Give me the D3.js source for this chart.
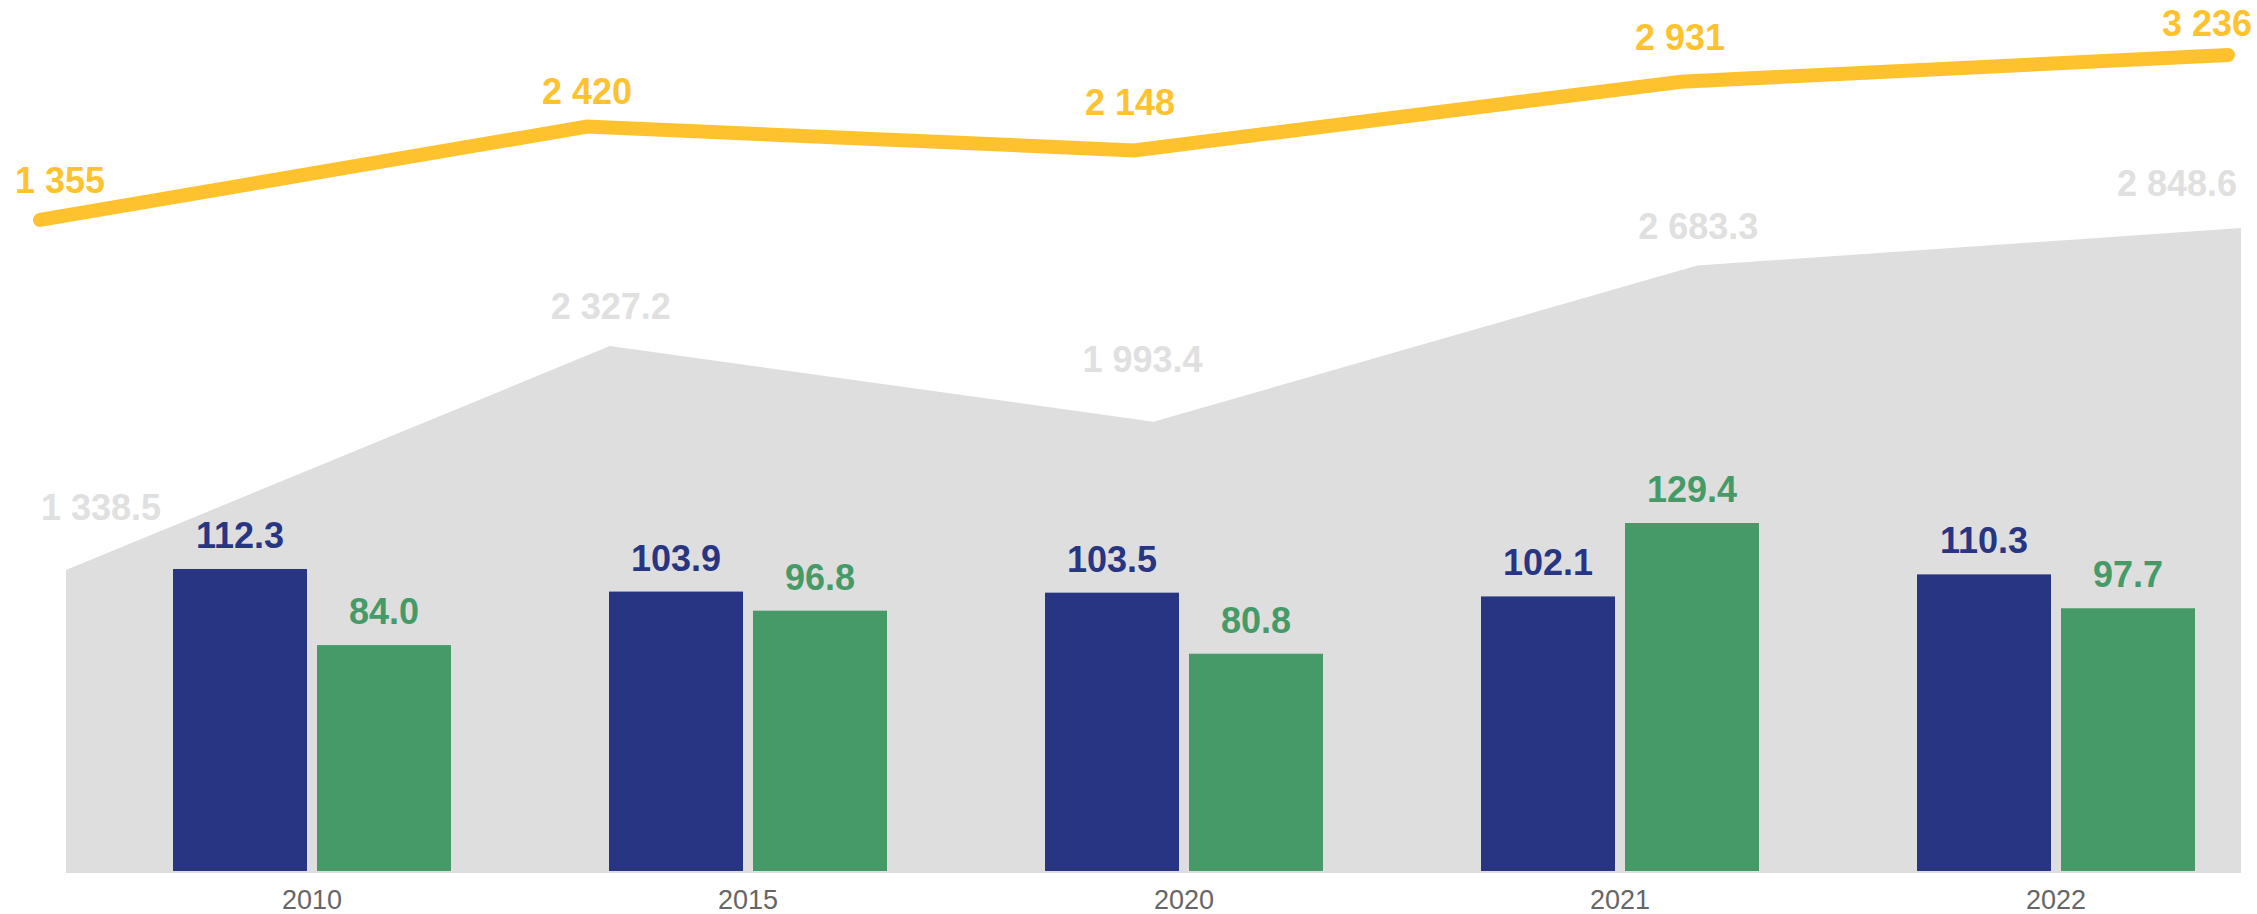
<!DOCTYPE html>
<html>
<head>
<meta charset="utf-8">
<script src="https://cdn.jsdelivr.net/npm/d3@7"></script>
<style>
  html, body { margin: 0; padding: 0; background: #ffffff; }
  svg { display: block; }
</style>
</head>
<body>
<svg id="chart" width="2257" height="914"></svg>
<script>
// ---------------- DATA ----------------
const years = ["2010", "2015", "2020", "2021", "2022"];
const lineValues = [1355, 2420, 2148, 2931, 3236];          // yellow line
const areaValues = [1338.5, 2327.2, 1993.4, 2683.3, 2848.6]; // grey area
const blueValues = [112.3, 103.9, 103.5, 102.1, 110.3];      // blue bars
const greenValues = [84.0, 96.8, 80.8, 129.4, 97.7];         // green bars

// ---------------- LAYOUT (label nudges, not data) ----------------
const lineLabelDx = [20, 0, -4, -1, -21];
const lineLabelDy = [-27, -23, -35, -32, -19];
const areaLabelDx = [35, 1, -11, 1, -64];
const areaLabelDy = [-50, -27, -50, -27, -32];

const fmtInt = v => d3.format(",d")(v).replace(/,/g, " ");
const fmtDec = v => d3.format(",.1f")(v).replace(/,/g, " ");

const colors = {
  blue: "#283582",
  green: "#469A68",
  yellow: "#FFC22F",
  area: "#DEDEDE",
  areaLabel: "#E0E0E0",
  axis: "#666666"
};
const FONT = "'Liberation Sans', Arial, Helvetica, sans-serif";

const svg = d3.select("#chart");

// ---------------- SCALES ----------------
const xArea = d3.scalePoint().domain(years).range([66, 2241]);
const yArea = d3.scaleLinear().domain([0, 3000]).range([873, 193.8]);

const xLine = d3.scalePoint().domain(years).range([40, 2228]);
const yLine = d3.scaleLinear().domain([1000, 3500]).range([251.1, 31.8]);

const xGroup = d3.scaleBand().domain(years).range([94, 2274])
  .paddingInner(0.3624).paddingOuter(0.1812);
const xSub = d3.scaleBand().domain(["blue", "green"]).range([0, xGroup.bandwidth()])
  .paddingInner(0.0694).paddingOuter(0);
const yBar = d3.scaleLinear().domain([0, 140]).range([871, 494.5]);

// ---------------- AREA ----------------
const areaData = years.map((y, i) => ({ year: y, v: areaValues[i] }));
svg.append("path")
  .datum(areaData)
  .attr("fill", colors.area)
  .attr("d", d3.area()
    .x(d => xArea(d.year))
    .y0(yArea(0))
    .y1(d => yArea(d.v)));

// ---------------- BARS ----------------
const barData = [];
years.forEach((y, i) => {
  barData.push({ year: y, key: "blue", v: blueValues[i] });
  barData.push({ year: y, key: "green", v: greenValues[i] });
});

svg.append("g").selectAll("rect")
  .data(barData)
  .join("rect")
  .attr("x", d => xGroup(d.year) + xSub(d.key))
  .attr("width", xSub.bandwidth())
  .attr("y", d => yBar(d.v))
  .attr("height", d => yBar(0) - yBar(d.v))
  .attr("fill", d => colors[d.key]);

svg.append("g").selectAll("text")
  .data(barData)
  .join("text")
  .attr("x", d => xGroup(d.year) + xSub(d.key) + xSub.bandwidth() / 2)
  .attr("y", d => yBar(d.v) - 21)
  .attr("text-anchor", "middle")
  .attr("font-family", FONT)
  .attr("font-weight", "bold")
  .attr("font-size", 36)
  .attr("fill", d => colors[d.key])
  .text(d => fmtDec(d.v));

// ---------------- AREA LABELS ----------------
svg.append("g").selectAll("text")
  .data(areaData)
  .join("text")
  .attr("x", (d, i) => xArea(d.year) + areaLabelDx[i])
  .attr("y", (d, i) => yArea(d.v) + areaLabelDy[i])
  .attr("text-anchor", "middle")
  .attr("font-family", FONT)
  .attr("font-weight", "bold")
  .attr("font-size", 36)
  .attr("fill", colors.areaLabel)
  .text(d => fmtDec(d.v));

// ---------------- LINE ----------------
const lineData = years.map((y, i) => ({ year: y, v: lineValues[i] }));
svg.append("path")
  .datum(lineData)
  .attr("fill", "none")
  .attr("stroke", colors.yellow)
  .attr("stroke-width", 14)
  .attr("stroke-linecap", "round")
  .attr("stroke-linejoin", "miter")
  .attr("d", d3.line().x(d => xLine(d.year)).y(d => yLine(d.v)));

svg.append("g").selectAll("text")
  .data(lineData)
  .join("text")
  .attr("x", (d, i) => xLine(d.year) + lineLabelDx[i])
  .attr("y", (d, i) => yLine(d.v) + lineLabelDy[i])
  .attr("text-anchor", "middle")
  .attr("font-family", FONT)
  .attr("font-weight", "bold")
  .attr("font-size", 36)
  .attr("fill", colors.yellow)
  .text(d => fmtInt(d.v));

// ---------------- X AXIS LABELS ----------------
const xAxis = d3.axisBottom(xGroup).tickSize(0).tickPadding(0);
const gx = svg.append("g")
  .attr("transform", "translate(0,890)")
  .call(xAxis);
gx.select(".domain").remove();
gx.selectAll("text")
  .attr("font-family", FONT)
  .attr("font-size", 27)
  .attr("fill", colors.axis)
  .attr("dy", "0.71em");
</script>
</body>
</html>
